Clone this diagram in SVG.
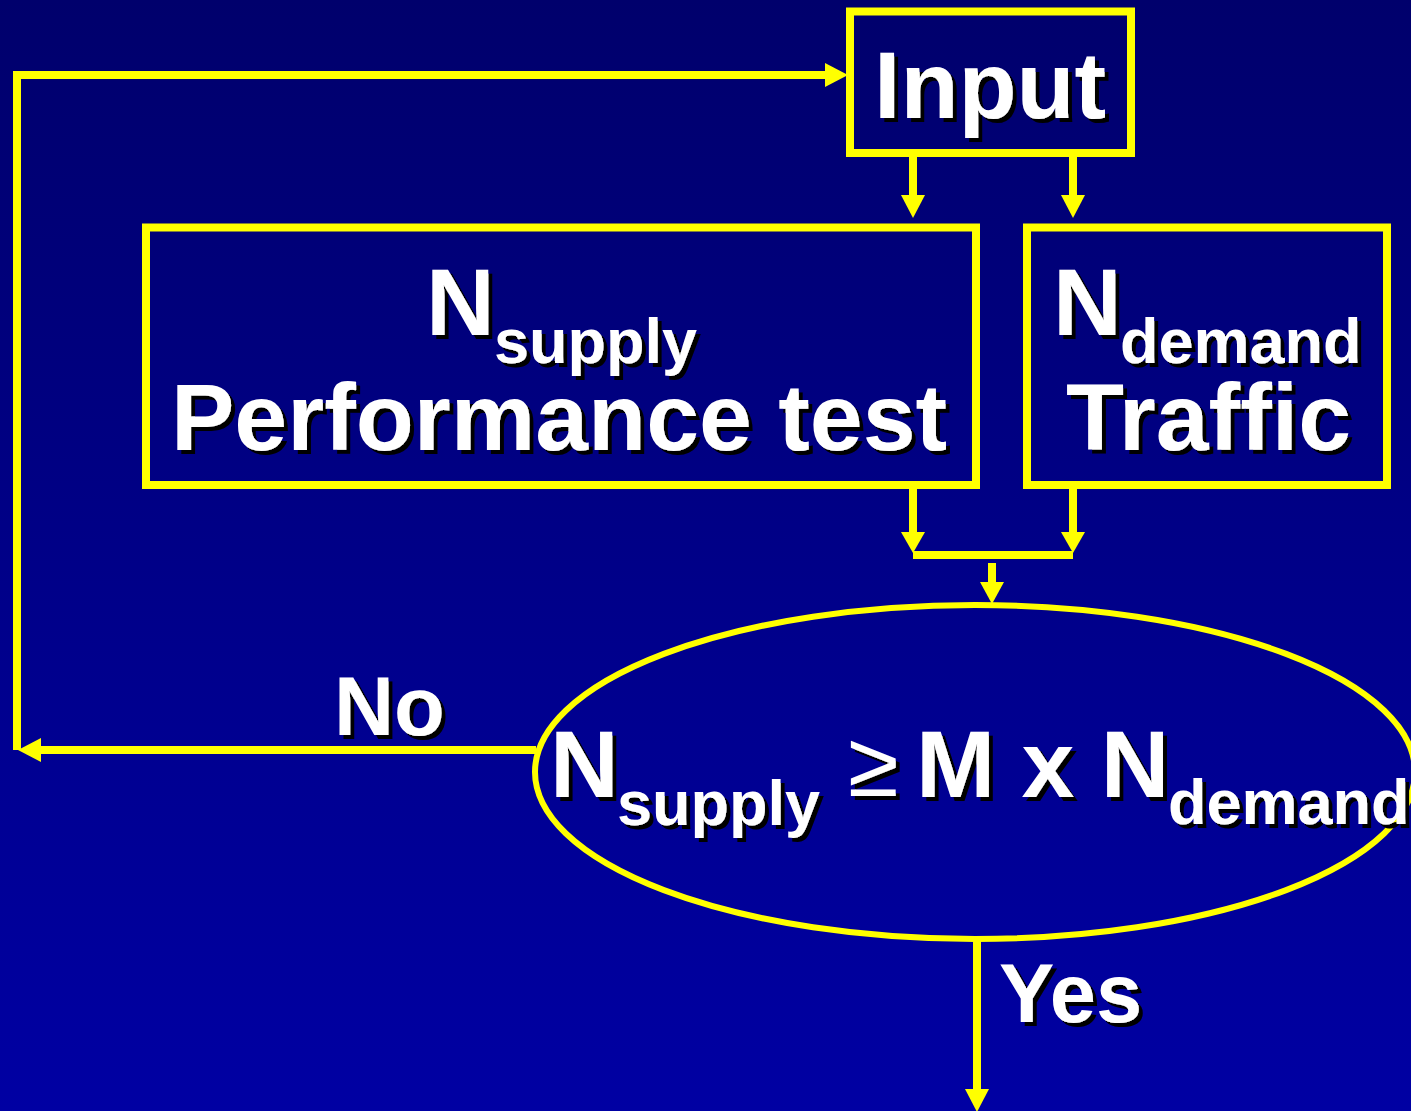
<svg xmlns="http://www.w3.org/2000/svg" width="1411" height="1111" viewBox="0 0 1411 1111">
  <defs>
    <linearGradient id="bg" x1="0" y1="0" x2="0" y2="1">
      <stop offset="0" stop-color="#00006C"/>
      <stop offset="1" stop-color="#0000A3"/>
    </linearGradient>
    <filter id="shadow" x="-5%" y="-5%" width="115%" height="125%">
      <feOffset in="SourceAlpha" dx="4" dy="4" result="off"/>
      <feFlood flood-color="#000000"/>
      <feComposite in2="off" operator="in" result="sh"/>
      <feMerge>
        <feMergeNode in="sh"/>
        <feMergeNode in="SourceGraphic"/>
      </feMerge>
    </filter>
  </defs>
  <style>
    .box { fill: none; stroke: #FFFF00; stroke-width: 8; }
    .wire { fill: none; stroke: #FFFF00; stroke-width: 8; }
    .head { fill: #FFFF00; }
    .lbl { font-family: "Liberation Sans", Arial, sans-serif; font-weight: bold; fill: #FFFFFF; filter: url(#shadow); }
    .big { font-size: 95px; }
    .sub { font-size: 63px; }
    .tag { font-size: 83px; }
    .rel { font-size: 92px; font-weight: normal; }
  </style>

  <rect width="1411" height="1111" fill="url(#bg)"/>

  <g id="connectors">
    <!-- Input to both analysis boxes -->
    <line class="wire" x1="913" y1="157" x2="913" y2="197"/>
    <polygon class="head" points="901,195 925,195 913,218"/>
    <line class="wire" x1="1073" y1="157" x2="1073" y2="197"/>
    <polygon class="head" points="1061,195 1085,195 1073,218"/>
    <!-- analysis boxes merge -->
    <line class="wire" x1="913" y1="489" x2="913" y2="534"/>
    <polygon class="head" points="901,532 925,532 913,553"/>
    <line class="wire" x1="1073" y1="489" x2="1073" y2="534"/>
    <polygon class="head" points="1061,532 1085,532 1073,553"/>
    <line class="wire" x1="913" y1="555" x2="1073" y2="555"/>
    <line class="wire" x1="992" y1="563" x2="992" y2="584"/>
    <polygon class="head" points="980,582 1004,582 992,604"/>
    <!-- No: loop back to Input -->
    <line class="wire" x1="536" y1="750" x2="38" y2="750"/>
    <polygon class="head" points="41,738 41,762 18,750"/>
    <polyline class="wire" points="17,750 17,75 828,75"/>
    <polygon class="head" points="825,63 825,87 848,75"/>
    <!-- Yes: exit -->
    <line class="wire" x1="977" y1="940" x2="977" y2="1092"/>
    <polygon class="head" points="965,1089 989,1089 977,1112"/>
  </g>

  <g id="input">
    <rect class="box" x="850" y="11.5" width="281" height="141.5"/>
    <text class="lbl big" x="874" y="118">Input</text>
  </g>

  <g id="supply">
    <rect class="box" x="146" y="227.5" width="830" height="257.5"/>
    <text class="lbl big" x="426" y="335">N</text>
    <text class="lbl sub" x="494" y="363">supply</text>
    <text class="lbl big" x="171" y="450">Performance test</text>
  </g>

  <g id="demand">
    <rect class="box" x="1027" y="227.5" width="360" height="257.5"/>
    <text class="lbl big" x="1053" y="335">N</text>
    <text class="lbl sub" x="1120" y="363">demand</text>
    <text class="lbl big" x="1066" y="450">Traffic</text>
  </g>

  <g id="decision">
    <ellipse cx="975" cy="772" rx="440" ry="167" fill="none" stroke="#FFFF00" stroke-width="6"/>
    <text class="lbl big" x="550" y="797">N</text>
    <text class="lbl sub" x="617" y="825">supply</text>
    <text class="lbl rel" x="848" y="796">≥</text>
    <text class="lbl big" x="916" y="797">M x N</text>
    <text class="lbl sub" x="1168" y="824">demand</text>
  </g>

  <g id="labels">
    <text class="lbl tag" x="334" y="735">No</text>
    <text class="lbl tag" x="999" y="1022">Yes</text>
  </g>
</svg>
